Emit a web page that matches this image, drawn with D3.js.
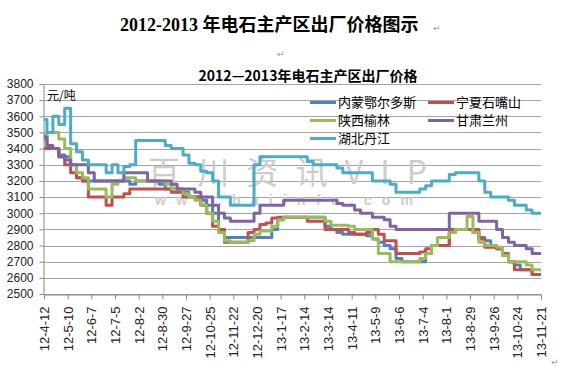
<!DOCTYPE html>
<html>
<head>
<meta charset="utf-8">
<script src="https://cdn.jsdelivr.net/npm/d3@7"></script>
<style>
body{margin:0;background:#fff;}
svg{display:block;}
</style>
</head>
<body>
<div id="chartbox"></div>
<script>

// weekly prices, yuan/ton, 12-4-12 .. 13-11-21
var neimeng = [3480,3410,3400,3360,3350,3300,3220,3200,3200,3200,
  3200,3200,3200,3200,3200,3180,3200,3200,3200,3200,
  3180,3150,3150,3150,3130,3100,3100,3080,3050,3000,
  2900,2850,2850,2850,2850,2850,2850,2850,2850,2900,
  2960,2975,2975,2975,2975,2975,2975,2975,2920,2900,
  2880,2870,2870,2870,2870,2860,2840,2820,2800,2780,
  2720,2700,2700,2700,2700,2750,2800,2800,2800,2880,
  2900,2900,2900,2880,2850,2830,2800,2780,2740,2700,
  2680,2650,2650,2620,2620];
var ningxia = [3400,3400,3400,3350,3300,3250,3220,3200,3100,3100,
  3100,3050,3100,3100,3120,3150,3150,3150,3150,3150,
  3150,3150,3130,3130,3100,3100,3100,3050,3000,2920,
  2900,2820,2820,2820,2820,2880,2900,2930,2940,2970,
  2975,2975,2975,2975,2975,2950,2950,2950,2900,2900,
  2900,2900,2880,2870,2870,2880,2900,2870,2830,2830,
  2750,2750,2750,2750,2760,2780,2800,2800,2800,2900,
  2900,2900,2900,2900,2840,2790,2790,2780,2750,2700,
  2650,2650,2650,2620,2620];
var shaanxi = [3450,3500,3500,3460,3400,3300,3250,3220,3150,3150,
  3150,3100,3180,3200,3220,3220,3200,3200,3200,3200,
  3200,3180,3150,3150,3120,3100,3080,3050,3000,2950,
  2880,2830,2820,2820,2820,2830,2870,2890,2890,2920,
  2960,2975,2975,2975,2975,2975,2975,2975,2950,2925,
  2925,2925,2920,2900,2900,2900,2840,2750,2750,2700,
  2700,2700,2700,2700,2720,2750,2800,2850,2850,2880,
  2900,2900,2980,2880,2820,2800,2800,2790,2740,2700,
  2700,2700,2680,2650,2650];
var gansu = [3470,3420,3400,3350,3330,3300,3300,3300,3250,3200,
  3200,3200,3200,3200,3250,3250,3250,3250,3200,3200,
  3200,3200,3180,3150,3150,3150,3130,3100,3100,3050,
  3000,2970,2950,2950,2950,2950,3000,3050,3050,3050,
  3050,3080,3080,3080,3080,3080,3080,3080,3080,3080,
  3060,3050,3050,3020,3000,3000,2975,2975,2960,2920,
  2900,2900,2900,2900,2900,2900,2900,2900,2900,3000,
  3000,3000,3000,3000,2950,2950,2950,2900,2850,2820,
  2800,2800,2780,2750,2750];
var hubei = [3580,3500,3600,3550,3650,3430,3380,3330,3300,3300,
  3300,3250,3300,3250,3290,3300,3450,3450,3450,3450,
  3450,3420,3400,3400,3360,3310,3300,3260,3250,3200,
  3100,3100,3050,3050,3050,3050,3300,3350,3350,3350,
  3350,3350,3350,3350,3350,3320,3300,3300,3300,3300,
  3280,3250,3250,3250,3250,3250,3200,3200,3200,3180,
  3130,3130,3130,3130,3150,3170,3200,3200,3200,3240,
  3250,3250,3250,3250,3200,3130,3100,3100,3100,3080,
  3050,3050,3020,3000,3000];

var names = ['内蒙鄂尔多斯','宁夏石嘴山','陕西榆林','甘肃兰州','湖北丹江'];
var yTicks = [2500,2600,2700,2800,2900,3000,3100,3200,3300,3400,3500,3600,3700,3800];
var xLabels = ['12-4-12','12-5-10','12-6-7','12-7-5','12-8-2','12-8-30','12-9-27',
  '12-10-25','12-11-22','12-12-20','13-1-17','13-2-14','13-3-14','13-4-11','13-5-9',
  '13-6-6','13-7-4','13-8-1','13-8-29','13-9-26','13-10-24','13-11-21'];

var series = [neimeng, ningxia, shaanxi, gansu, hubei];
var colors = ['#4f81bd','#c0504d','#9bbb59','#8064a2','#4bacc6'];

const width = 576;
const height = 366;
var cjk = '"Noto Sans CJK SC", sans-serif';
var latin = '"Liberation Sans", Arial, sans-serif';

d3.select('#chartbox').html(null);
var svg = d3.select('#chartbox').append('svg')
  .attr('width', width).attr('height', height)
  .attr('viewBox', [0, 0, width, height]);

var x = d3.scaleLinear().domain([0, neimeng.length - 1]).range([44, 541]);
var y = d3.scaleLinear().domain([2500, 3800]).range([294, 84]);

// page title (word document heading)
svg.append('text').attr('x', 120).attr('y', 31)
  .style('font-family', '"Liberation Serif", "Noto Sans CJK SC", serif')
  .style('font-size', '18px').style('font-weight', 'bold').attr('fill', '#000')
  .text('2012-2013 年电石主产区出厂价格图示');
svg.append('text').attr('x', 433).attr('y', 31).style('font-family', '"DejaVu Sans"')
  .style('font-size', '9px').attr('fill', '#999').text('↵');
svg.append('text').attr('x', 277).attr('y', 57).style('font-family', '"DejaVu Sans"')
  .style('font-size', '9px').attr('fill', '#999').text('↵');
svg.append('text').attr('x', 551).attr('y', 365).style('font-family', '"DejaVu Sans"')
  .style('font-size', '9px').attr('fill', '#999').text('↵');

// grid
svg.append('g').selectAll('line').data(yTicks).join('line')
  .attr('x1', 44).attr('x2', 541)
  .attr('y1', d => Math.round(y(d)) + 0.5).attr('y2', d => Math.round(y(d)) + 0.5)
  .attr('stroke', '#a5a5a5').attr('stroke-width', 1);

// watermark
svg.append('text').attr('x', 148).attr('y', 184)
  .attr('textLength', 279).attr('lengthAdjust', 'spacing')
  .style('font-family', cjk).style('font-size', '32px')
  .attr('fill', '#cdcdcd').text('百川资讯VIP');
svg.append('text').attr('x', 155).attr('y', 205)
  .attr('textLength', 258).attr('lengthAdjust', 'spacing')
  .style('font-family', latin).style('font-size', '14px').style('font-weight', 'bold')
  .attr('fill', '#cdcdcd').text('www.baiinfo.com');

// axes
var yAxis = d3.axisLeft(y).tickValues(yTicks).tickFormat(d3.format('d'))
  .tickSize(4).tickSizeOuter(0).tickPadding(6);
var gy = svg.append('g').attr('transform', 'translate(43.5,0)').call(yAxis);
gy.selectAll('text').style('font-family', latin).style('font-size', '12px').attr('fill', '#222');

var xAxis = d3.axisBottom(x).tickValues(d3.range(0, neimeng.length, 4))
  .tickFormat((d, i) => xLabels[i]).tickSize(5).tickSizeOuter(0);
var gx = svg.append('g').attr('transform', 'translate(0,294.5)').call(xAxis);
gx.selectAll('text').attr('transform', 'rotate(-90)').attr('text-anchor', 'end')
  .attr('x', -12).attr('y', 0).attr('dy', '0.35em')
  .style('font-family', latin).style('font-size', '13px').attr('fill', '#222');

[gx, gy].forEach(function(g){
  g.select('.domain').attr('stroke', '#868686');
  g.selectAll('.tick line').attr('stroke', '#868686');
});

// lines
var line = d3.line().x((d, i) => x(i)).y(d => y(d)).curve(d3.curveStep);
svg.append('g').selectAll('path').data(series).join('path')
  .attr('d', line).attr('fill', 'none')
  .attr('stroke', (d, i) => colors[i]).attr('stroke-width', 3)
  .attr('stroke-linejoin', 'round');

// chart title and unit
svg.append('text').attr('x', 308).attr('y', 81).attr('text-anchor', 'middle')
  .style('font-family', cjk).style('font-size', '14px').style('font-weight', 'bold')
  .attr('fill', '#000').text('2012—2013年电石主产区出厂价格');
svg.append('text').attr('x', 47).attr('y', 100)
  .style('font-family', cjk).style('font-size', '12px').attr('fill', '#000').text('元/吨');

// legend
var legPos = [[310, 102.5], [428, 102.5], [310, 120.5], [428, 120.5], [310, 138.5]];
var leg = svg.append('g').selectAll('g').data(names).join('g')
  .attr('transform', (d, i) => 'translate(' + legPos[i][0] + ',' + legPos[i][1] + ')');
leg.append('line').attr('x1', 0).attr('x2', 26).attr('y1', 0).attr('y2', 0)
  .attr('stroke', (d, i) => colors[i]).attr('stroke-width', 3);
leg.append('text').attr('x', 28).attr('y', 0).attr('dy', '0.38em')
  .style('font-family', cjk).style('font-size', '13px').attr('fill', '#000')
  .text(d => d);

</script>
</body>
</html>
